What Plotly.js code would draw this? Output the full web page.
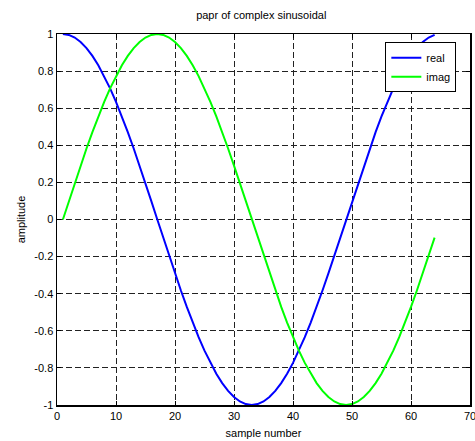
<!DOCTYPE html>
<html><head><meta charset="utf-8">
<script src="https://cdn.plot.ly/plotly-3.0.1.min.js"></script>
<style>html,body{margin:0;padding:0;background:#fff}#c{width:475px;height:441px}</style>
</head><body><div id="c"></div>
<script>
const sampleNumber = [1,2,3,4,5,6,7,8,9,10,11,12,13,14,15,16,17,18,19,20,21,22,23,24,25,26,27,28,29,30,31,32,33,34,35,36,37,38,39,40,41,42,43,44,45,46,47,48,49,50,51,52,53,54,55,56,57,58,59,60,61,62,63,64];
const realPart = [1,0.9952,0.9808,0.9569,0.9239,0.8819,0.8315,0.7730,0.7071,0.6344,0.5556,0.4714,0.3827,0.2903,0.1951,0.0980,0,
 -0.0980,-0.1951,-0.2903,-0.3827,-0.4714,-0.5556,-0.6344,-0.7071,-0.7730,-0.8315,-0.8819,-0.9239,-0.9569,-0.9808,-0.9952,-1,
 -0.9952,-0.9808,-0.9569,-0.9239,-0.8819,-0.8315,-0.7730,-0.7071,-0.6344,-0.5556,-0.4714,-0.3827,-0.2903,-0.1951,-0.0980,0,
 0.0980,0.1951,0.2903,0.3827,0.4714,0.5556,0.6344,0.7071,0.7730,0.8315,0.8819,0.9239,0.9569,0.9808,0.9952];
const imagPart = [0,0.0980,0.1951,0.2903,0.3827,0.4714,0.5556,0.6344,0.7071,0.7730,0.8315,0.8819,0.9239,0.9569,0.9808,0.9952,1,
 0.9952,0.9808,0.9569,0.9239,0.8819,0.8315,0.7730,0.7071,0.6344,0.5556,0.4714,0.3827,0.2903,0.1951,0.0980,0,
 -0.0980,-0.1951,-0.2903,-0.3827,-0.4714,-0.5556,-0.6344,-0.7071,-0.7730,-0.8315,-0.8819,-0.9239,-0.9569,-0.9808,-0.9952,-1,
 -0.9952,-0.9808,-0.9569,-0.9239,-0.8819,-0.8315,-0.7730,-0.7071,-0.6344,-0.5556,-0.4714,-0.3827,-0.2903,-0.1951,-0.0980];
const xTicks = [0,10,20,30,40,50,60,70];
const yTicks = [-1,-0.8,-0.6,-0.4,-0.2,0,0.2,0.4,0.6,0.8,1];
const yTickText = ['-1','-0.8','-0.6','-0.4','-0.2','0','0.2','0.4','0.6','0.8','1'];

const font = {family:'Liberation Sans, Arial, sans-serif', size:11, color:'#000'};
const traces = [
 {x:sampleNumber, y:realPart, name:'real', mode:'lines', line:{color:'#0000ff', width:2}},
 {x:sampleNumber, y:imagPart, name:'imag', mode:'lines', line:{color:'#00ff00', width:2}}
];
const axisCommon = {showline:true, linecolor:'#000', linewidth:1.5, mirror:'ticks', ticks:'inside', ticklen:4, tickcolor:'#000',
  showgrid:true, gridcolor:'#222', griddash:'6px,3px', gridwidth:1, zeroline:false, tickfont:font, ticklabeloverflow:'allow'};
const layout = {
 width:475, height:441, paper_bgcolor:'#fff', plot_bgcolor:'#fff', font:font,
 margin:{l:57, r:5, t:34, b:36},
 title:{text:'papr of complex sinusoidal', font:{family:font.family,size:11,color:'#000'}, x:0.55, xanchor:'center', y:0.975, yanchor:'top'},
 xaxis:Object.assign({}, axisCommon, {range:[0,70], tickvals:xTicks, ticktext:xTicks.map(String),
   title:{text:'sample number', font:font, standoff:8}}),
 yaxis:Object.assign({}, axisCommon, {range:[-1,1], tickvals:yTicks, ticktext:yTickText,
   title:{text:'amplitude', font:font, standoff:6}}),
 showlegend:true,
 legend:{x:0.795, y:0.978, xanchor:'left', yanchor:'top', bgcolor:'#fff', bordercolor:'#000', borderwidth:1, font:font,
   tracegroupgap:0}
};
Plotly.newPlot('c', traces, layout, {staticPlot:true, displayModeBar:false});
</script></body></html>
